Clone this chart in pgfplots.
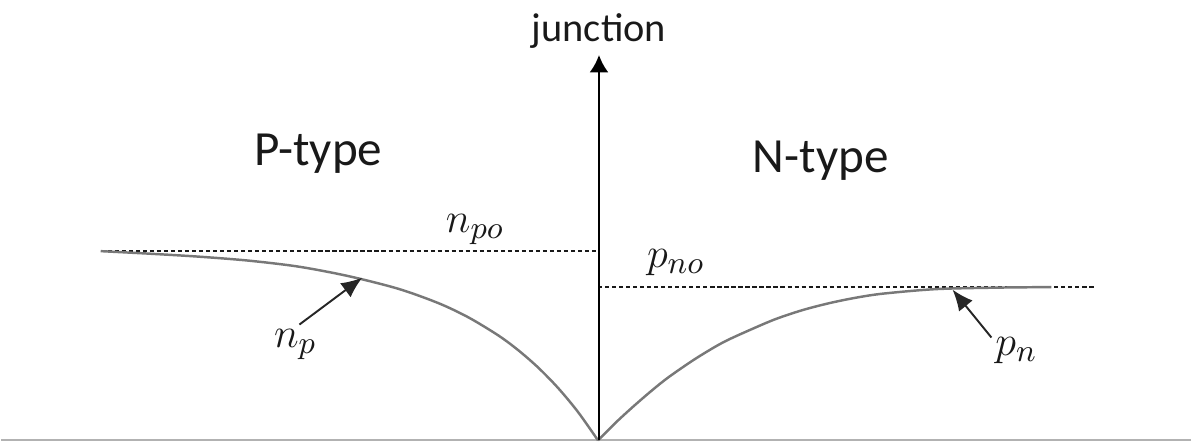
\documentclass[border=0pt]{standalone}
\usepackage{pgfplots}
\pgfplotsset{compat=1.18}
\usetikzlibrary{arrows.meta}
\usepackage{fontspec}
\setmainfont{Carlito}
\definecolor{curvegray}{RGB}{120,120,120}
\definecolor{txt}{RGB}{25,25,25}
\begin{document}
\begin{tikzpicture}
\begin{axis}[
  width=119.2mm, height=44.3mm, scale only axis,
  xmin=0, xmax=1192, ymin=0, ymax=443,
  axis lines=none, clip=false,
]
\path (axis cs:0,0) rectangle (axis cs:1192,443);
% bottom baseline
\addplot[draw=black!30, line width=0.5pt] coordinates {(0,2) (1192,2)};
% equilibrium levels (dashed)
\addplot[black!90, line width=0.65pt, dash pattern=on 1.2pt off 0.8pt] coordinates {(100,192) (598,192)};
\addplot[black!90, line width=0.65pt, dash pattern=on 1.2pt off 0.8pt] coordinates {(598,155.5) (1097,155.5)};
% n_p (left)
\addplot[curvegray, line width=0.7pt, smooth] coordinates {
(100,191.5) (148,189) (198,186) (248,182) (298,176) (348,166.5) (398,153.8)
(438,139.5) (468,125.3) (498,107.2) (518,92.4) (538,75) (558,54.5) (578,30.4) (598,2)};
% p_n (right)
\addplot[curvegray, line width=0.7pt, smooth] coordinates {
(598,2) (616,20) (634,36.5) (652,52) (669,65.5) (696,84) (723,100) (750,112.5)
(776,123.5) (803,132.5) (830,139.5) (857,145) (884,149)
(937,153.5) (1000,155) (1052,155.5)};
% junction axis
\addplot[black, line width=0.8pt, -{Latex[length=5pt,width=5.5pt]}] coordinates {(599,2) (599,388)};
\node[txt, anchor=base, font=\fontsize{11.5}{13}\selectfont] at (axis cs:599,401) {junction};
\node[txt, anchor=base, font=\fontsize{14}{16}\selectfont] at (axis cs:318,277) {P-type};
\node[txt, anchor=base, font=\fontsize{14}{16}\selectfont] at (axis cs:821,270) {N-type};
% labels
\node[txt, font=\fontsize{13}{15}\selectfont] at (axis cs:475,213) {$n_{po}$};
\node[txt, font=\fontsize{13}{15}\selectfont] at (axis cs:676,180) {$p_{no}$};
\node[txt, font=\fontsize{13}{15}\selectfont] at (axis cs:295,98) {$n_{p}$};
\node[txt, font=\fontsize{13}{15}\selectfont] at (axis cs:1017,92) {$p_{n}$};
\draw[black!85, line width=0.55pt, -{Latex[length=6pt,width=5pt]}] (axis cs:299,118) -- (axis cs:362,165);
\draw[black!85, line width=0.55pt, -{Latex[length=6pt,width=5pt]}] (axis cs:992,105) -- (axis cs:953,153);
\end{axis}
\end{tikzpicture}
\end{document}
